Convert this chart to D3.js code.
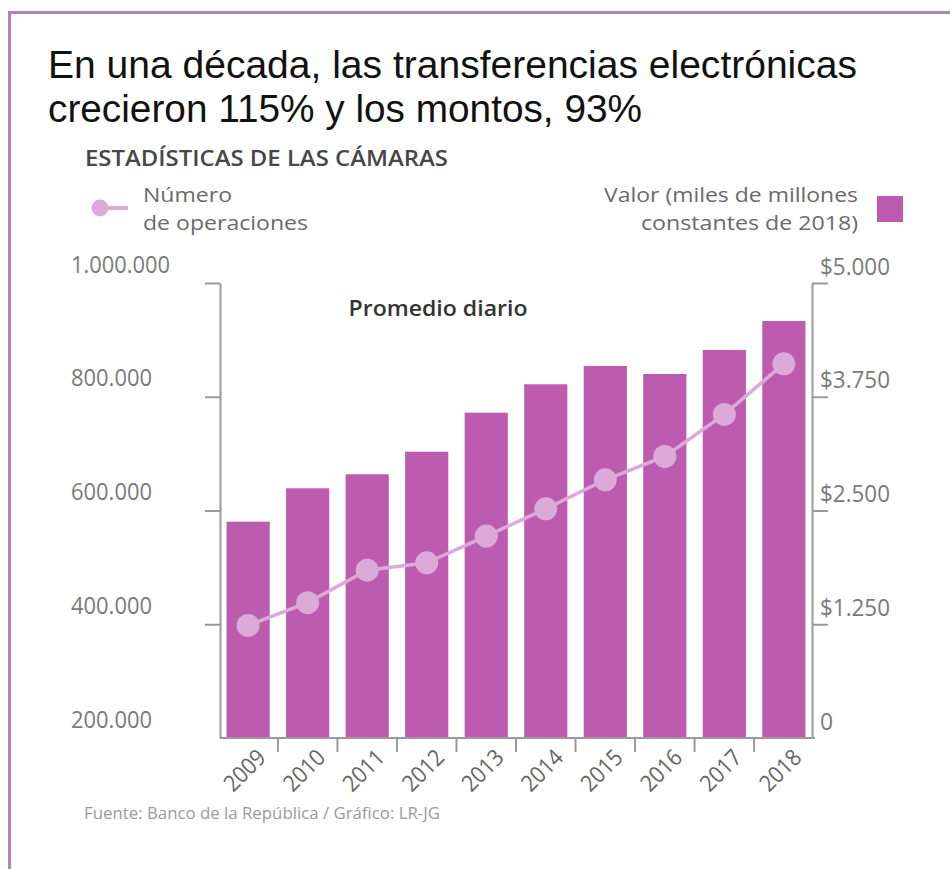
<!DOCTYPE html>
<html><head><meta charset="utf-8">
<script src="https://cdn.jsdelivr.net/npm/d3@7/dist/d3.min.js"></script>
<style>body{margin:0;background:#fff;} svg{display:block}</style>
</head><body>
<script>
// ---- data ----
const years = ["2009","2010","2011","2012","2013","2014","2015","2016","2017","2018"];
const valor = [2377, 2744, 2898, 3146, 3575, 3887, 4088, 4000, 4264, 4582];           // miles de millones (right axis)
const operaciones = [398000, 438000, 495000, 508000, 555000, 603000, 654000, 695000, 769000, 858000]; // left axis
const leftTicks = [200000, 400000, 600000, 800000, 1000000];
const leftTickLabels = ["200.000", "400.000", "600.000", "800.000", "1.000.000"];
const rightTicks = [0, 1250, 2500, 3750, 5000];
const rightTickLabels = ["0", "$1.250", "$2.500", "$3.750", "$5.000"];
const titleLines = ["En una década, las transferencias electrónicas", "crecieron 115% y los montos, 93%"];
const subtitle = "ESTADÍSTICAS DE LAS CÁMARAS";
const legendLine = ["Número", "de operaciones"];
const legendBar = ["Valor (miles de millones", "constantes de 2018)"];
const innerLabel = "Promedio diario";
const source = "Fuente: Banco de la República / Gráfico: LR-JG";

// ---- style ----
const W = 950, H = 869;
const BAR = "#bc5bb0", DOT = "#dcaad8", AXIS = "#9a9a9a", LABEL = "#7a7a7a";
const chartFont = "'Open Sans', 'Noto Sans', sans-serif";
const titleWidths = [809, 594];
const legendLineWidths = [89, 165];
const legendBarWidths = [254, 217];

const svg = d3.select("body").append("svg").attr("width", W).attr("height", H);
svg.append("rect").attr("width", W).attr("height", H).attr("fill", "#fff");

// frame
svg.append("path").attr("d", `M9.5,${H} V12.5 H${W}`).attr("fill", "none")
  .attr("stroke", "#b580bb").attr("stroke-width", 3);

// title
svg.append("g").selectAll("text").data(titleLines).join("text")
  .attr("x", 48).attr("y", (d, i) => 78 + i * 44)
  .attr("font-family", "'Liberation Sans', Arial, sans-serif")
  .attr("font-size", 38).attr("fill", "#111")
  .attr("textLength", (d, i) => titleWidths[i]).attr("lengthAdjust", "spacingAndGlyphs")
  .text(d => d);

svg.append("text").attr("x", 85).attr("y", 166)
  .attr("font-family", chartFont).attr("font-size", 21).attr("font-weight", 600)
  .attr("fill", "#474747").attr("textLength", 363).attr("lengthAdjust", "spacingAndGlyphs")
  .text(subtitle);

// scales
const x0 = 220, x1 = 812, yTop = 283, yBot = 738;
const x = d3.scaleBand().domain(years).range([x0, x1]).paddingInner(0.275).paddingOuter(0.11);
const yL = d3.scaleLinear().domain([200000, 1000000]).range([yBot, yTop]);
const yR = d3.scaleLinear().domain([0, 5000]).range([yBot, yTop]);

// bars
svg.append("g").selectAll("rect").data(years).join("rect")
  .attr("x", d => x(d)).attr("width", x.bandwidth())
  .attr("y", (d, i) => yR(valor[i])).attr("height", (d, i) => yBot - yR(valor[i]))
  .attr("fill", BAR);

// left axis
const gL = svg.append("g").attr("transform", `translate(${x0},0)`)
  .call(d3.axisLeft(yL).tickValues(leftTicks).tickSize(15).tickSizeOuter(0)
    .tickFormat((d, i) => leftTickLabels[i]));
gL.select(".domain").attr("stroke", AXIS).attr("stroke-width", 2);
gL.selectAll(".tick line").attr("stroke", AXIS).attr("stroke-width", 2)
  .attr("opacity", d => d === leftTicks[0] ? 0 : 1);
gL.selectAll(".tick text").attr("x", 71 - x0).attr("dy", 0).attr("y", -11)
  .attr("text-anchor", "start").attr("fill", LABEL)
  .attr("font-family", chartFont).attr("font-size", 23)
  .attr("textLength", (d, i) => leftTickLabels[i].length > 7 ? 99 : 81).attr("lengthAdjust", "spacingAndGlyphs");

// right axis
const gR = svg.append("g").attr("transform", `translate(${x1},0)`)
  .call(d3.axisRight(yR).tickValues(rightTicks).tickSize(16).tickSizeOuter(0)
    .tickFormat((d, i) => rightTickLabels[i]));
gR.select(".domain").attr("stroke", AXIS).attr("stroke-width", 2);
gR.selectAll(".tick line").attr("stroke", AXIS).attr("stroke-width", 2)
  .attr("opacity", d => d === rightTicks[0] ? 0 : 1);
gR.selectAll(".tick text").attr("x", 820 - x1).attr("dy", 0).attr("y", -9)
  .attr("text-anchor", "start").attr("fill", LABEL)
  .attr("font-family", chartFont).attr("font-size", 23)
  .each(function(d, i) { if (rightTickLabels[i].length > 1) d3.select(this).attr("textLength", 70).attr("lengthAdjust", "spacingAndGlyphs"); });

// bottom axis
const gB = svg.append("g").attr("transform", `translate(0,${yBot})`)
  .call(d3.axisBottom(x).tickSize(0).tickSizeOuter(0));
gB.select(".domain").attr("stroke", AXIS).attr("stroke-width", 2)
  .attr("d", `M${x0},0H${x1 + 3}`);
gB.selectAll(".tick text")
  .attr("text-anchor", "end").attr("dy", 0).attr("y", 0)
  .attr("transform", `translate(${19},${21}) rotate(-45)`)
  .attr("fill", "#666").attr("font-family", chartFont).attr("font-size", 23)
  .attr("textLength", 48).attr("lengthAdjust", "spacingAndGlyphs");
// separators between years
svg.append("g").selectAll("line").data(years.slice(1)).join("line")
  .attr("x1", d => x(d) - x.step() * x.paddingInner() / 2)
  .attr("x2", d => x(d) - x.step() * x.paddingInner() / 2)
  .attr("y1", yBot).attr("y2", yBot + 14)
  .attr("stroke", AXIS).attr("stroke-width", 2);

// line + dots
const line = d3.line().x((d, i) => x(years[i]) + x.bandwidth() / 2).y(d => yL(d));
svg.append("path").datum(operaciones).attr("d", line)
  .attr("fill", "none").attr("stroke", DOT).attr("stroke-width", 3.5);
svg.append("g").selectAll("circle").data(operaciones).join("circle")
  .attr("cx", (d, i) => x(years[i]) + x.bandwidth() / 2).attr("cy", d => yL(d))
  .attr("r", 11.5).attr("fill", DOT);

// inner label
svg.append("text").attr("x", 438).attr("y", 316).attr("text-anchor", "middle")
  .attr("font-family", chartFont).attr("font-size", 22).attr("font-weight", 600)
  .attr("fill", "#333").attr("textLength", 179).attr("lengthAdjust", "spacingAndGlyphs")
  .text(innerLabel);

// legends
svg.append("line").attr("x1", 100).attr("x2", 128).attr("y1", 208).attr("y2", 208)
  .attr("stroke", DOT).attr("stroke-width", 4);
svg.append("circle").attr("cx", 100).attr("cy", 208).attr("r", 8.5).attr("fill", DOT);
svg.append("g").selectAll("text").data(legendLine).join("text")
  .attr("x", 143).attr("y", (d, i) => 202 + i * 28)
  .attr("font-family", chartFont).attr("font-size", 20).attr("fill", "#6a6a6a")
  .attr("textLength", (d, i) => legendLineWidths[i]).attr("lengthAdjust", "spacingAndGlyphs")
  .text(d => d);
svg.append("g").selectAll("text").data(legendBar).join("text")
  .attr("x", 858).attr("y", (d, i) => 202 + i * 28).attr("text-anchor", "end")
  .attr("font-family", chartFont).attr("font-size", 20).attr("fill", "#6a6a6a")
  .attr("textLength", (d, i) => legendBarWidths[i]).attr("lengthAdjust", "spacingAndGlyphs")
  .text(d => d);
svg.append("rect").attr("x", 877).attr("y", 196).attr("width", 26).attr("height", 26).attr("fill", BAR);

// source
svg.append("text").attr("x", 84).attr("y", 819)
  .attr("font-family", chartFont).attr("font-size", 16).attr("fill", "#9a9a9a")
  .attr("textLength", 356).attr("lengthAdjust", "spacingAndGlyphs")
  .text(source);
</script>
</body></html>
